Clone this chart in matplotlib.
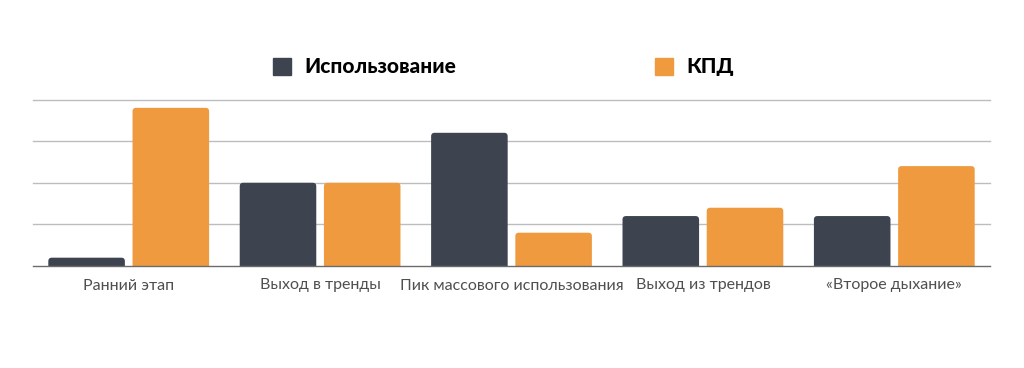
import matplotlib
matplotlib.use("Agg")
import matplotlib.pyplot as plt
from matplotlib.patches import FancyBboxPatch, Patch
import numpy as np

categories = ["Ранний этап", "Выход в тренды", "Пик массового использования",
              "Выход из трендов", "«Второе дыхание»"]
usage = [0.2, 2.0, 3.2, 1.2, 1.2]
kpd = [3.8, 2.0, 0.8, 1.4, 2.4]
series_names = ["Использование", "КПД"]
colors = ["#3d4450", "#f09a3f"]

plt.rcParams['font.family'] = ['Lato', 'DejaVu Sans']

fig = plt.figure(figsize=(10.24, 3.68), dpi=100)
ax = fig.add_axes([33/1024, 1-266/368, (990-33)/1024, (266-99.5)/368])

x = np.arange(len(categories))
w = 0.40
off = 0.22
bars1 = ax.bar(x - off, usage, w, color=colors[0])
bars2 = ax.bar(x + off, kpd, w, color=colors[1])

# rounded top corners
ax.set_xlim(-0.5, len(categories) - 0.5)
ax.set_ylim(0, 4)
fig.canvas.draw()
px_x = ax.bbox.width / 5.0
px_y = ax.bbox.height / 4.0
aspect = px_x / px_y
r = 3.5 / px_x
for bars in (bars1, bars2):
    for b in bars:
        b.set_visible(False)
        p = FancyBboxPatch((b.get_x(), -0.3), b.get_width(), b.get_height() + 0.3,
                           boxstyle=f"round,pad=0,rounding_size={r}",
                           mutation_aspect=aspect, fc=b.get_facecolor(),
                           ec="none", zorder=2)
        ax.add_patch(p)

for yv in [1, 2, 3, 4]:
    ax.axhline(yv, color="#bdbdbd", lw=1, zorder=0, clip_on=False)

for s in ["top", "right", "left"]:
    ax.spines[s].set_visible(False)
ax.spines["bottom"].set_color("#6b6b6b")
ax.spines["bottom"].set_linewidth(1)
ax.spines["bottom"].set_zorder(3)
ax.set_yticks([])
ax.set_xticks(x)
ax.set_xticklabels(categories, fontsize=11.5, color="#4f4f4f")
ax.tick_params(axis="x", length=0, pad=9)

handles = [Patch(color=c) for c in colors]
leg = fig.legend(handles, series_names, loc="center", bbox_to_anchor=(0.4915, 0.818),
                 ncol=2, frameon=False, handlelength=0.87, handleheight=0.87,
                 handletextpad=0.62, columnspacing=9.55,
                 prop={"weight": "black", "size": 15})

fig.savefig("out.png", dpi=100)
